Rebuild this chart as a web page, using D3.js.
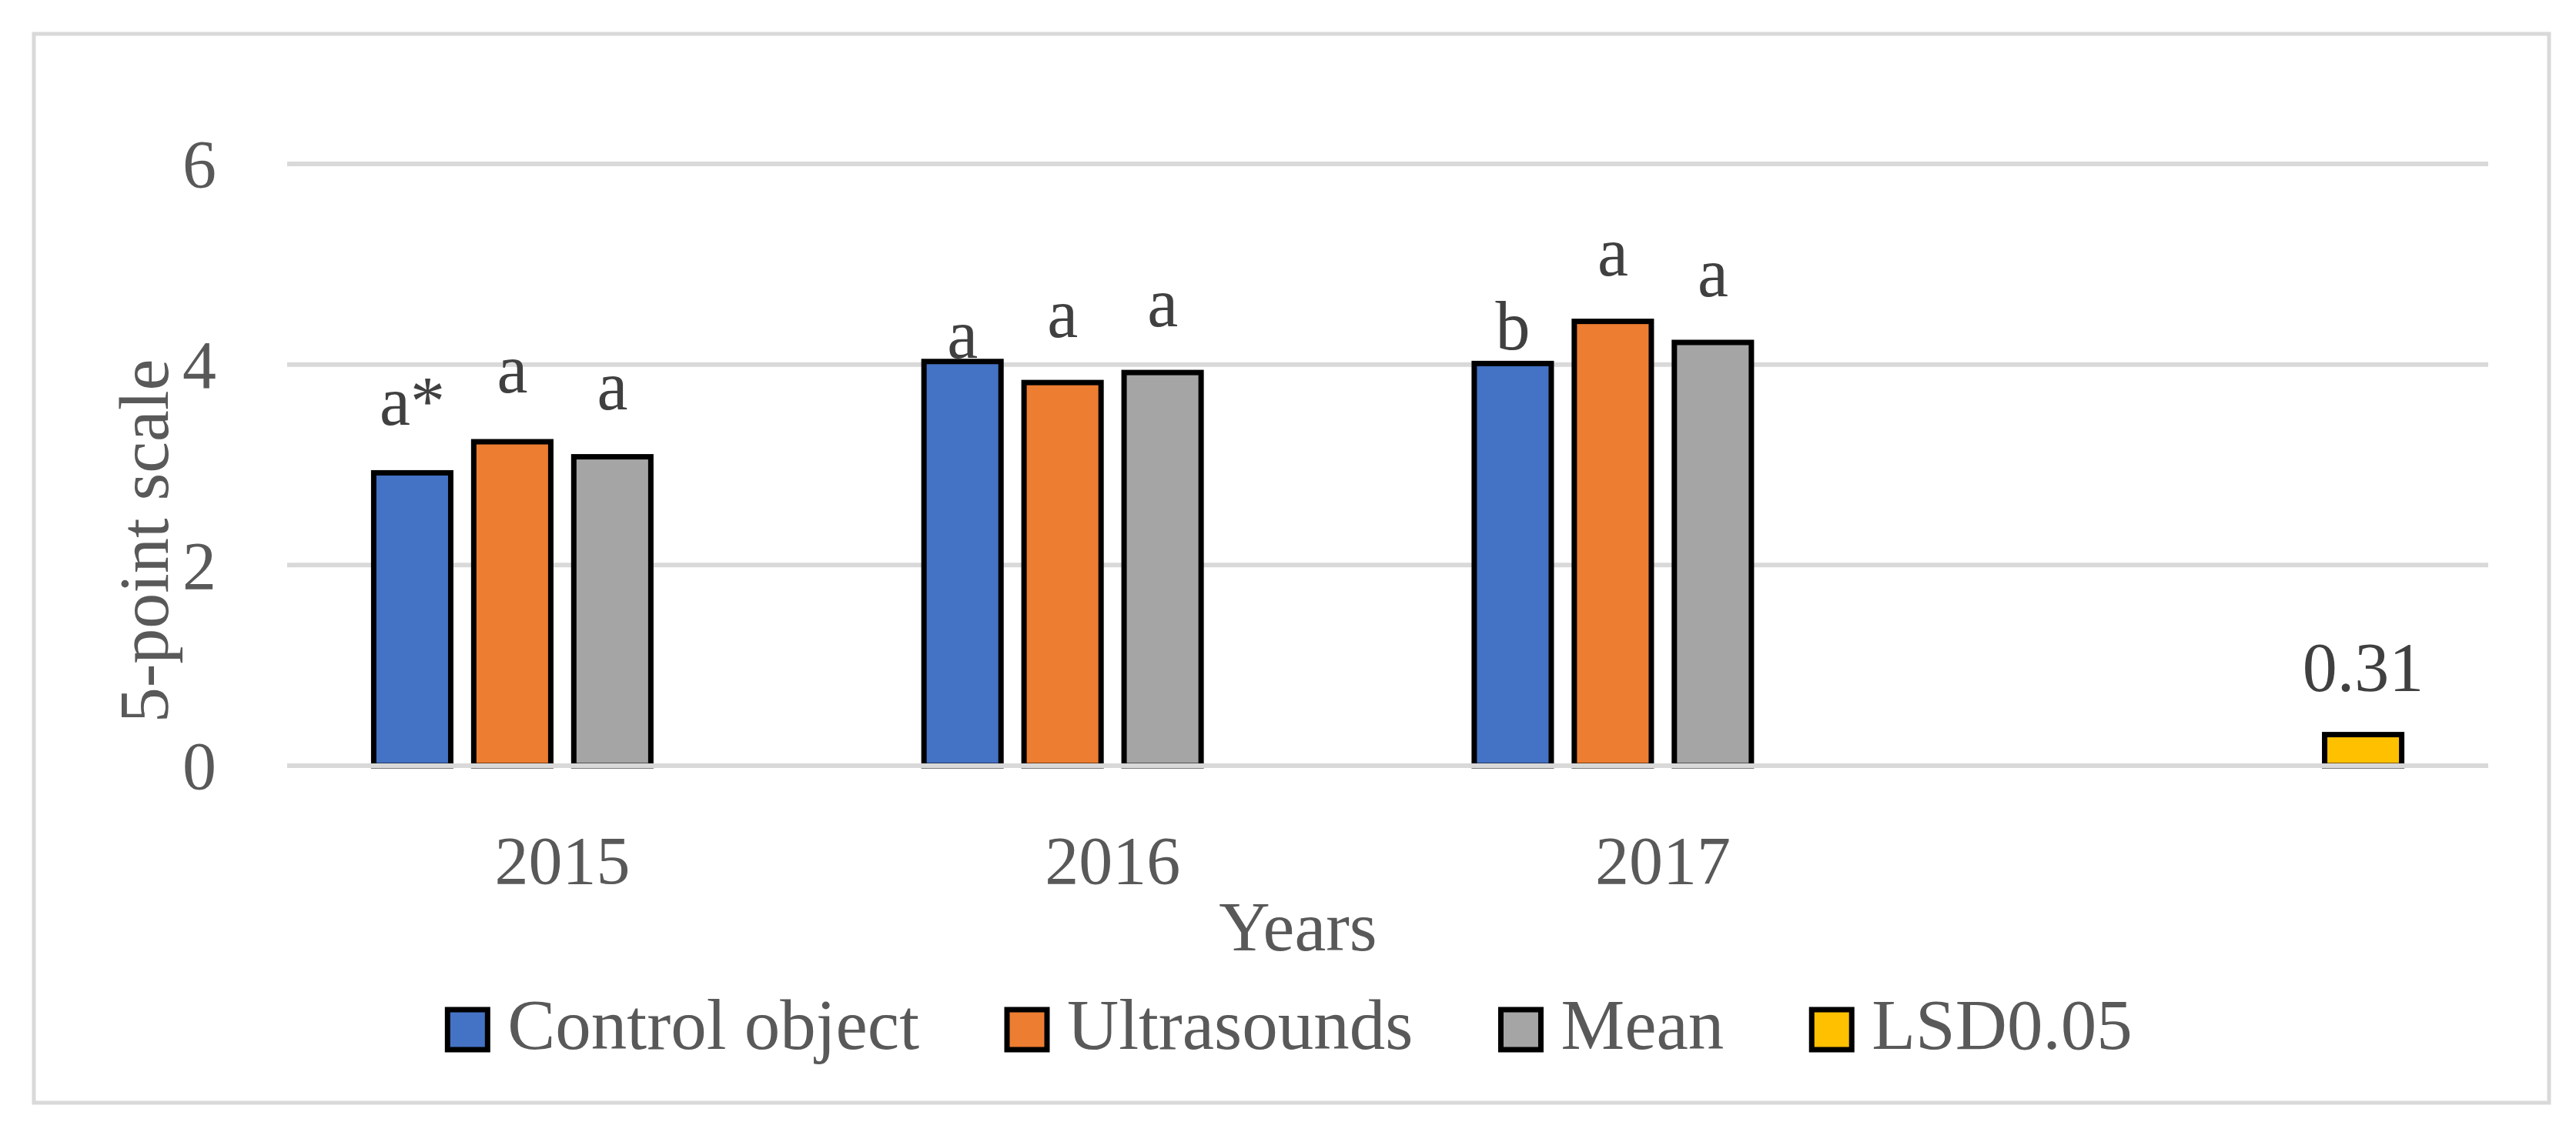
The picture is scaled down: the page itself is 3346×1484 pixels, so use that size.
<!DOCTYPE html>
<html>
<head>
<meta charset="utf-8">
<script src="https://cdn.jsdelivr.net/npm/d3@7"></script>
<style>
  html, body { margin: 0; padding: 0; background: #fff; }
  svg { display: block; }
  text { font-family: "Palatino Linotype", "Book Antiqua", Palatino, "Liberation Serif", serif; }
</style>
</head>
<body>
<div id="container"></div>
<script>
// values
const categories = ["2015", "2016", "2017", ""];
const seriesNames = ["Control object", "Ultrasounds", "Mean", "LSD0.05"];
const controlValues = [2.92, 4.03, 4.01];
const ultrasoundValues = [3.23, 3.82, 4.43];
const meanValues = [3.08, 3.92, 4.22];
const lsdValue = 0.31;
const controlLetters = ["a*", "a", "b"];
const ultrasoundLetters = ["a", "a", "a"];
const meanLetters = ["a", "a", "a"];
const yTicks = [0, 2, 4, 6];

const colors = ["#4472c4", "#ed7d31", "#a5a5a5", "#ffc000"];

const width = 3346;
const height = 1484;
const plot = { left: 373, right: 3232, top: 213, bottom: 995 };

// build bar records: three year groups + the LSD bar in the last slot
const bars = [];
[controlValues, ultrasoundValues, meanValues].forEach((vals, s) => {
    const letters = [controlLetters, ultrasoundLetters, meanLetters][s];
    vals.forEach((v, i) => {
        bars.push({ cat: categories[i], series: seriesNames[s], value: v, label: letters[i] });
    });
});
bars.push({ cat: categories[3], series: seriesNames[3], value: lsdValue, label: lsdValue.toFixed(2) });

// labels were nudged by hand in the original, so lift each one a little differently
const labelLift = {
    "2015|Control object": 62, "2015|Ultrasounds": 64, "2015|Mean": 62,
    "2016|Control object": 5, "2016|Ultrasounds": 59, "2016|Mean": 60,
    "2017|Control object": 18, "2017|Ultrasounds": 60, "2017|Mean": 60,
    "|LSD0.05": 57
};

const svg = d3.select("#container")
    .append("svg")
    .attr("width", width)
    .attr("height", height);

// chart border
svg.append("rect")
    .attr("x", 44).attr("y", 44)
    .attr("width", 3311 - 44).attr("height", 1433 - 44)
    .attr("fill", "#fff")
    .attr("stroke", "#d9d9d9")
    .attr("stroke-width", 5);

const x0 = d3.scaleBand()
    .domain(categories)
    .range([plot.left, plot.right])
    .padding(0);

const x1 = d3.scaleBand()
    .domain(seriesNames)
    .range([0, x0.bandwidth()])
    .paddingInner(0.23)
    .paddingOuter(0.865);

const y = d3.scaleLinear()
    .domain([0, 6])
    .range([plot.bottom, plot.top]);

// gridlines
svg.append("g")
    .selectAll("line")
    .data(yTicks.filter(d => d > 0))
    .join("line")
    .attr("x1", plot.left).attr("x2", plot.right)
    .attr("y1", d => y(d)).attr("y2", d => y(d))
    .attr("stroke", "#d9d9d9")
    .attr("stroke-width", 6);

// y tick labels
svg.append("g")
    .call(d3.axisLeft(y).tickValues(yTicks).tickFormat(d3.format("d")).tickSize(0).tickPadding(0))
    .attr("transform", "translate(281,0)")
    .call(g => g.select(".domain").remove())
    .call(g => g.selectAll("text")
        .attr("font-family", null)
        .attr("font-size", 88)
        .attr("fill", "#595959")
        .attr("dy", "0.34em"));

// bars
svg.append("g")
    .selectAll("rect")
    .data(bars)
    .join("rect")
    .attr("x", d => x0(d.cat) + x1(d.series))
    .attr("y", d => y(d.value))
    .attr("width", x1.bandwidth())
    .attr("height", d => y(0) - y(d.value))
    .attr("fill", d => colors[seriesNames.indexOf(d.series)])
    .attr("stroke", "#000")
    .attr("stroke-width", 7);

// horizontal axis line drawn over the bar bottoms
svg.append("line")
    .attr("x1", plot.left).attr("x2", plot.right)
    .attr("y1", y(0)).attr("y2", y(0))
    .attr("stroke", "#d9d9d9")
    .attr("stroke-width", 6);

// data labels
svg.append("g")
    .selectAll("text")
    .data(bars)
    .join("text")
    .attr("x", d => x0(d.cat) + x1(d.series) + x1.bandwidth() / 2)
    .attr("y", d => y(d.value) - labelLift[d.cat + "|" + d.series])
    .attr("text-anchor", "middle")
    .attr("font-size", 90)
    .attr("fill", "#404040")
    .text(d => d.label);

// x category labels
svg.append("g")
    .call(d3.axisBottom(x0).tickSize(0).tickPadding(0))
    .attr("transform", "translate(0,1148)")
    .call(g => g.select(".domain").remove())
    .call(g => g.selectAll("text")
        .attr("font-family", null)
        .attr("font-size", 88)
        .attr("fill", "#595959")
        .attr("dy", 0));

// axis titles
svg.append("text")
    .attr("x", 1686).attr("y", 1235)
    .attr("text-anchor", "middle")
    .attr("font-size", 92)
    .attr("fill", "#595959")
    .text("Years");

svg.append("text")
    .attr("transform", "translate(218,703) rotate(-90)")
    .attr("text-anchor", "middle")
    .attr("font-size", 92)
    .attr("fill", "#595959")
    .text("5-point scale");

// legend, laid out from the measured text widths and centred on the chart
const legend = svg.append("g");
const items = legend.selectAll("g")
    .data(seriesNames)
    .join("g");

items.append("rect")
    .attr("x", 3).attr("y", 1312)
    .attr("width", 52).attr("height", 52)
    .attr("fill", (d, i) => colors[i])
    .attr("stroke", "#000")
    .attr("stroke-width", 7);

items.append("text")
    .attr("x", 81).attr("y", 1363)
    .attr("font-size", 93)
    .attr("fill", "#595959")
    .text(d => d);

const widths = [];
items.each(function () {
    widths.push(81 + d3.select(this).select("text").node().getComputedTextLength());
});
const gap = 111;
const total = d3.sum(widths) + gap * (widths.length - 1);
let cursor = 1674 - total / 2;
items.attr("transform", (d, i) => {
    const t = `translate(${cursor},0)`;
    cursor += widths[i] + gap;
    return t;
});
</script>
</body>
</html>
